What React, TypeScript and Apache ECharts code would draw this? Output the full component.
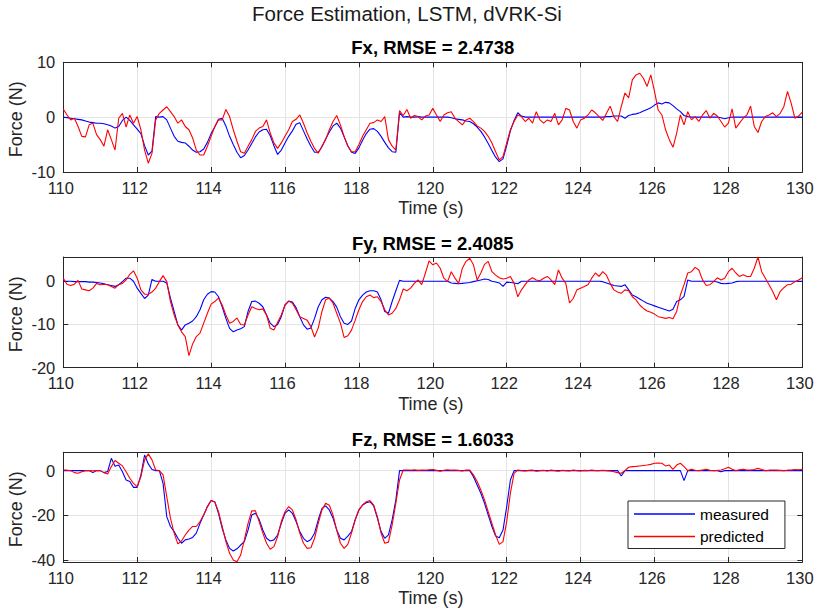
import React, { useEffect, useRef } from "react";
import * as echarts from "echarts";

// Sampling of the time axis (s)
const TIME_START = 110;
const TIME_STEP = 0.1;

const xTicks = [110, 112, 114, 116, 118, 120, 122, 124, 126, 128, 130];
const fxTicks = [-10, 0, 10];
const fyTicks = [-20, -10, 0];
const fzTicks = [-40, -20, 0];

const mainTitle = "Force Estimation, LSTM, dVRK-Si";
const subplotTitles = ["Fx, RMSE = 2.4738", "Fy, RMSE = 2.4085", "Fz, RMSE = 1.6033"];
const seriesNames = ["measured", "predicted"];
const xName = "Time (s)";
const yName = "Force (N)";

// Fx (N), one value every 0.1 s from 110.0 to 130.0
const fxMeasured = [
  0, -0.1, -0.2, -0.3, -0.4, -0.5, -0.7, -0.9, -1.0, -1.1,
  -1.1, -1.2, -1.4, -1.6, -2.0, -1.7, -0.6, 0, -0.6, -1.4,
  -2.2, -3.0, -5.2, -6.9, -6.2, 0.1, 0, 0.1, -0.5, -2.0,
  -3.5, -4.4, -4.6, -4.7, -5.3, -6.0, -6.4, -6.3, -5.8, -4.6,
  -3.0, -1.8, -0.4, -0.2, -1.6, -3.5, -5.0, -6.4, -7.4, -7.0,
  -6.0, -4.8, -3.6, -2.7, -2.3, -2.2, -3.4, -5.2, -6.8, -6.0,
  -4.7, -3.5, -2.5, -1.3, -1.0, -2.5, -4.0, -5.3, -6.4, -6.4,
  -5.4, -4.0, -2.7, -1.6, -1.1, -2.0, -3.6, -5.2, -6.4, -6.6,
  -5.6, -4.2, -3.0, -2.2, -2.1, -2.6, -3.5, -4.6, -5.6, -6.3,
  -6.4, 0.8, 0, 0.1, 0, 0, 0.1, 0, 0, 0,
  0, 0, 0, 0, 0, -0.1, -0.3, -0.4, -0.5, -0.7,
  -0.8, -1.2, -1.8, -2.6, -3.6, -4.8, -6.1, -7.3, -8.1, -7.6,
  -5.2, -2.5, -0.6, 0.8, 0.2, 0, 0, 0, 0, 0,
  0, 0, 0, 0, 0, 0, 0, 0, 0, 0,
  0, 0, 0, 0, 0, 0, 0, 0.1, 0.1, 0.2,
  0.2, 0.2, -0.2, 0.3, 0.5, 0.6, 0.8, 1.1, 1.4, 1.7,
  2.2, 2.6, 2.4, 2.7, 2.6, 2.1, 1.5, 1.0, 0.3, 0.1,
  0, 0, 0, 0, 0, 0, 0, 0, -0.1, -0.3,
  -0.1, 0, 0, 0, 0, 0, 0, 0, 0, 0,
  0, 0, 0, 0, 0, 0, 0, 0, 0, 0,
  0,
];
const fxPredicted = [
  1.5, 0.4, -0.5, -0.2, -1.7, -3.5, -3.6, -1.4, -1.1, -3.2,
  -4.1, -5.3, -2.3, -4.1, -6.0, -0.2, 0.7, -1.8, 0.4, -1.1,
  0.1, -2.3, -6.0, -8.4, -6.6, -0.5, 0.7, 1.3, 1.9, 1.0,
  0.1, -1.1, -0.5, -1.7, -2.3, -3.8, -6.0, -6.9, -6.9, -5.3,
  -3.5, -1.7, -0.5, -0.5, 1.4, 0.1, -2.3, -4.4, -6.3, -6.6,
  -5.3, -4.1, -2.6, -2.0, -1.7, -0.5, -2.9, -4.7, -5.7, -4.7,
  -3.5, -2.3, -0.8, -0.4, 0.4, -1.1, -2.9, -4.4, -5.7, -6.6,
  -5.3, -4.1, -2.3, -0.8, 0.3, -1.4, -3.5, -5.3, -6.3, -6.3,
  -5.0, -3.5, -2.3, -1.1, -1.0, -0.5, -0.8, 0.1, -4.1, -5.3,
  -6.0, 1.2, 0.3, 1.4, -0.2, 0.3, 0.1, -0.5, 0.2, 0.4,
  1.6, 0.4, -0.8, 0.4, 0.8, 1.0, -0.2, -0.8, -1.4, -0.5,
  -0.2, -0.8, -1.6, -2.0, -2.6, -3.5, -4.7, -6.3, -7.8, -7.2,
  -4.7, -2.3, -0.8, 0.4, 0.1, -0.8, -0.2, -1.1, 1.0, -0.5,
  -1.1, -0.5, -0.8, 0.7, -1.4, -0.5, 1.6, 1.3, -0.8, -2.0,
  -0.5, -0.2, 0.4, 1.3, 0.8, 0.1, -0.6, 0.7, 2.0, 0.1,
  -0.8, 1.9, 4.4, 3.5, 6.8, 7.7, 8.0, 7.1, 5.6, 7.7,
  4.7, 1.3, 0.4, -2.3, -4.1, -5.5, -2.9, 0.4, -1.4, 1.0,
  -0.5, 0.1, -0.8, 0.4, 1.2, -0.2, 0.7, 0.2, -0.8, -1.8,
  -1.1, 1.5, -2.0, -1.1, -0.2, 0.4, 2.0, -1.7, -2.8, -0.8,
  0.1, 0.4, 0.8, 0.1, 0.7, 1.9, 4.7, 2.5, -0.2, 0.2,
  0.9,
];

// Fy (N)
const fyMeasured = [
  0, 0, 0, -0.1, -0.1, -0.1, -0.1, -0.2, -0.2, -0.3,
  -0.4, -0.6, -0.8, -1.0, -1.2, -0.8, -0.1, 0.7, 0.7, 0,
  -1.6, -2.8, -4.0, -3.2, 0.4, 0, 0, 0, -0.4, -3.9,
  -7.0, -10.1, -11.3, -10.1, -9.7, -9.2, -8.2, -6.6, -4.3, -3.0,
  -2.4, -2.5, -3.6, -5.9, -8.6, -10.9, -11.7, -11.3, -11.0, -10.5,
  -7.0, -4.7, -4.6, -5.1, -5.9, -7.8, -9.7, -10.5, -10.0, -8.2,
  -5.5, -4.6, -4.8, -6.1, -8.2, -10.1, -11.1, -10.8, -8.6, -5.9,
  -4.3, -3.7, -3.9, -4.7, -6.0, -8.2, -9.7, -10.0, -9.2, -6.3,
  -4.3, -3.2, -2.5, -2.2, -2.2, -2.5, -4.3, -7.0, -7.4, -4.7,
  -2.2, 0.2, 0, 0, 0, 0, 0, 0, 0, 0,
  0, 0, 0, 0, 0, -0.4, -0.5, -0.6, -0.5, -0.4,
  -0.3, -0.1, 0.1, 0.3, 0.5, 0.4, 0, -0.2, -0.4, -1.2,
  -0.2, -0.3, -0.4, -0.6, 0, 0, 0, 0, 0, 0,
  0, 0, 0, 0, 0, 0, 0, 0, 0, 0,
  0, 0, 0, 0, 0, 0, -0.1, -0.4, -0.7, -1.0,
  -1.1, -1.2, -0.8, -2.0, -3.2, -3.6, -4.1, -4.6, -5.1, -5.4,
  -5.7, -6.0, -6.3, -6.6, -6.9, -6.5, -4.7, -4.3, -3.5, 0.3,
  0, 0, 0, 0, 0, 0, 0, -0.2, -0.5, -0.6,
  -0.5, -0.4, -0.1, 0, 0, 0, 0, 0, 0, 0,
  0, 0, 0, 0, 0, 0, 0, 0, 0, 0,
  0,
];
const fyPredicted = [
  0.7, -0.7, -1.0, -0.7, 0.2, -1.8, -2.0, -2.2, -1.6, -0.5,
  -0.8, -0.7, -0.8, -1.2, -1.6, -0.8, -0.5, 0.3, 1.6, 2.4,
  0.7, -2.0, -3.0, -3.0, -2.5, -1.6, -0.1, 1.3, -0.1, -4.7,
  -7.8, -10.1, -11.7, -12.8, -17.2, -14.5, -12.8, -12.0, -9.7, -7.4,
  -5.3, -4.7, -3.9, -5.5, -7.8, -9.7, -9.3, -8.5, -10.0, -10.1,
  -7.8, -5.9, -6.3, -6.6, -6.4, -7.8, -10.9, -11.3, -9.5, -7.8,
  -5.5, -4.6, -5.1, -6.6, -8.2, -8.6, -9.0, -10.5, -12.9, -10.8,
  -7.0, -4.3, -3.9, -5.1, -7.4, -9.7, -13.0, -12.6, -11.3, -9.0,
  -6.6, -4.7, -3.6, -3.2, -3.8, -3.6, -4.7, -6.6, -7.8, -7.4,
  -6.3, -4.3, -1.8, -2.2, -1.6, -0.5, 0.3, -0.8, 1.9, 4.7,
  3.8, 4.2, 3.0, 0.7, -0.1, 2.2, 0.7, -0.5, 3.0, 4.6,
  5.3, 3.8, 0.3, 1.9, 3.9, 4.6, 2.2, 1.4, 0.8, 0.5,
  0.7, 1.1, -0.5, -3.6, -2.0, -0.8, 0.3, 0.8, 0.3, 0.1,
  0.7, 1.1, 0.3, -0.8, 2.6, 0.7, -0.5, -5.0, -4.0, -2.0,
  -1.6, -1.2, -0.8, 0.7, 1.9, 1.1, 2.2, 1.4, -0.5, -2.0,
  -2.5, -2.8, -2.0, -2.2, -3.6, -4.3, -5.5, -6.3, -6.9, -7.2,
  -7.6, -8.2, -8.4, -8.6, -8.4, -8.7, -7.0, -3.2, -0.8, 1.9,
  2.2, 3.2, 2.6, 0.3, -1.0, -0.8, -0.1, 0.8, 0.3, 0.7,
  2.2, 3.0, 1.9, 1.1, 1.5, 1.1, 1.1, 3.0, 5.6, 2.2,
  0.7, -0.8, -2.4, -4.3, -2.4, -1.5, -0.8, -0.7, -0.1, 0.3,
  0.8,
];

// Fz (N)
const fzMeasured = [
  0, 0, 0, 0, 0, 0, 0, 0, -0.9, 0,
  0, -0.9, -0.4, 5.5, 2.0, 2.5, -0.5, -4.2, -4.9, -7.5,
  -7.5, -2.0, 7.0, 3.0, 0.5, 0, 0, -5.7, -20.6, -25.0,
  -27.3, -30.3, -32.5, -31.0, -30.6, -29.9, -28.0, -23.6, -19.9, -16.1,
  -13.4, -14.0, -19.1, -25.8, -31.0, -34.8, -36.0, -35.0, -33.3, -31.8,
  -26.6, -19.9, -19.1, -21.8, -26.6, -30.3, -31.5, -31.0, -28.8, -23.6,
  -19.1, -17.6, -19.1, -22.8, -27.3, -30.3, -31.8, -30.8, -28.0, -22.0,
  -16.9, -15.8, -17.6, -21.3, -26.6, -30.3, -31.0, -29.3, -27.3, -22.0,
  -17.6, -15.4, -14.4, -13.9, -15.8, -21.3, -27.3, -30.3, -28.8, -22.0,
  -13.1, 0, 0, 0, 0, 0, 0, 0, 0, 0,
  0, 0, 0, 0, 0, 0, 0, 0, 0, 0,
  0, -2.7, -6.4, -10.1, -14.6, -19.9, -25.0, -29.3, -30.0, -26.6,
  -16.1, -4.2, 0, 0, 0, 0, 0, 0, 0, 0,
  0, 0, 0, 0, 0, 0, 0, 0, 0, 0,
  0, 0, 0, 0, 0, 0, 0, 0, 0, 0,
  0, -2.4, 0, 0, 0, 0, 0, 0, 0, 0,
  0, 0, 0, 0, 0, 0, 0, 0, -4.5, 0,
  0, 0, 0, 0, 0, 0, 0, 0, -0.5, 0,
  0, 0, 0, 0, 0, 0, 0, 0, 0, 0,
  0, 0, 0, 0, 0, 0, 0, 0, 0, 0,
  0,
];
const fzPredicted = [
  0.3, 0.2, 0, -0.9, -1.2, -0.5, 0, 0, -0.1, 0,
  0, -0.9, -1.5, 1.8, 4.5, 3.3, 2.1, -0.5, -3.4, -5.7,
  -7.2, -2.7, 4.8, 7.5, 4.8, 0.3, 0, -1.9, -11.6, -21.3,
  -28.0, -32.8, -31.5, -28.8, -26.6, -25.0, -25.0, -22.8, -19.9, -16.1,
  -13.4, -14.0, -18.4, -25.0, -31.8, -37.0, -40.0, -40.8, -37.8, -31.0,
  -23.6, -18.0, -18.0, -22.8, -28.0, -32.5, -35.2, -34.0, -29.6, -22.8,
  -18.4, -16.1, -17.6, -22.0, -28.0, -32.5, -34.8, -34.5, -30.3, -23.6,
  -17.6, -14.6, -15.5, -19.9, -26.6, -32.5, -34.8, -33.0, -28.0, -22.0,
  -17.6, -15.4, -13.9, -13.4, -15.4, -20.6, -28.0, -32.5, -32.0, -24.3,
  -14.6, -4.2, 0.3, 0.3, 0.2, 0.4, 0.1, 0.3, 0.2, 0.4,
  0.5, 0.1, -0.3, 0.2, 0.4, 0.2, 0.3, 0.1, -0.2, 0.3,
  0.2, -1.9, -4.9, -8.7, -13.1, -18.4, -23.6, -28.8, -33.0, -31.8,
  -22.8, -10.1, -1.2, 0.3, 0, -0.2, 0.1, 0.3, -0.3, 0,
  0.2, -0.2, 0.3, 0, -0.3, 0.2, 0, -0.1, 0.3, 0,
  -0.2, 0.1, 0, 0.3, 0, 0, 0.2, 0, -0.2, -0.5,
  -0.9, -1.2, 0, 1.5, 1.8, 1.9, 2.1, 2.3, 2.5, 2.8,
  3.3, 3.4, 3.3, 2.1, 2.5, 0.6, 2.5, 3.3, 1.8, 0,
  0.6, 0.2, 0, 0.3, 0.6, 0.2, 0, 0.1, 0.3, 0.8,
  1.5, 0.6, 0, 0.4, 0.6, 0.3, 0.3, 0.5, 1.0, 0.5,
  0, 0.2, 0.3, 0.2, 0.1, 0, 0.2, 0.3, 0.5, 0.4,
  0.6,
];

const FONT = "'Liberation Sans', Arial, Helvetica, sans-serif";
const AXIS_COLOR = "#262626";
const GRID_COLOR = "#e4e4e4";
const MEAS_COLOR = "#0000ff";
const PRED_COLOR = "#ff0000";

function toPairs(values: number[]) {
  return values.map((v, i) => [Math.round((TIME_START + i * TIME_STEP) * 100) / 100, v]);
}

const panels = [
  { meas: fxMeasured, pred: fxPredicted, ticks: fxTicks, min: -10, max: 10, top: 62.3, height: 109.7 },
  { meas: fyMeasured, pred: fyPredicted, ticks: fyTicks, min: -20, max: 5.6, top: 257, height: 110.7 },
  { meas: fzMeasured, pred: fzPredicted, ticks: fzTicks, min: -40.9, max: 8.2, top: 452.3, height: 109.7 },
];

const GRID_LEFT = 63.3;
const GRID_WIDTH = 739;

export default function App() {
  const ref = useRef<HTMLDivElement>(null);

  useEffect(() => {
    if (!ref.current) return;
    const chart = echarts.init(ref.current, undefined, { renderer: "svg" });

    const grids: any[] = [];
    const xAxes: any[] = [];
    const yAxes: any[] = [];
    const series: any[] = [];
    const graphics: any[] = [];

    const cx = GRID_LEFT + GRID_WIDTH / 2;

    graphics.push({
      type: "text",
      x: 407,
      y: 13,
      style: { text: mainTitle, fontSize: 20.5, fontFamily: FONT, fill: "#1a1a1a", align: "center", verticalAlign: "middle" },
    });

    panels.forEach((p, gi) => {
      grids.push({ left: GRID_LEFT, top: p.top, width: GRID_WIDTH, height: p.height, outerBoundsMode: "none", containLabel: false });

      const xBase = {
        type: "value",
        gridIndex: gi,
        min: 110,
        max: 130,
        interval: 2,
        axisLine: { show: true, onZero: false, lineStyle: { color: AXIS_COLOR, width: 1 } },
        axisTick: { show: true, inside: true, length: 5, lineStyle: { color: AXIS_COLOR, width: 1 } },
      };
      xAxes.push({
        ...xBase,
        position: "bottom",
        axisLabel: {
          show: true,
          margin: 7,
          fontSize: 16.5,
          fontFamily: FONT,
          color: AXIS_COLOR,
          customValues: xTicks,
          padding: [0, 5, 0, 0],
        },
        splitLine: { show: true, lineStyle: { color: GRID_COLOR, width: 1 } },
      });
      xAxes.push({
        ...xBase,
        position: "top",
        axisLabel: { show: false },
        splitLine: { show: false },
      });

      const yBase = {
        type: "value",
        gridIndex: gi,
        min: p.min,
        max: p.max,
        axisLine: { show: true, onZero: false, lineStyle: { color: AXIS_COLOR, width: 1 } },
        axisTick: { show: true, inside: true, length: 5, customValues: p.ticks, lineStyle: { color: AXIS_COLOR, width: 1 } },
      };
      yAxes.push({
        ...yBase,
        position: "left",
        axisLabel: { show: true, margin: 8, fontSize: 16.5, fontFamily: FONT, color: AXIS_COLOR, customValues: p.ticks },
        splitLine: { show: true, lineStyle: { color: GRID_COLOR, width: 1 } },
      });
      yAxes.push({
        ...yBase,
        position: "right",
        axisLabel: { show: false },
        splitLine: { show: false },
      });

      series.push({
        name: seriesNames[0],
        type: "line",
        xAxisIndex: gi * 2,
        yAxisIndex: gi * 2,
        data: toPairs(p.meas),
        showSymbol: false,
        symbol: "none",
        lineStyle: { color: MEAS_COLOR, width: 1.1 },
        itemStyle: { color: MEAS_COLOR },
        silent: true,
        z: 3,
      });
      series.push({
        name: seriesNames[1],
        type: "line",
        xAxisIndex: gi * 2,
        yAxisIndex: gi * 2,
        data: toPairs(p.pred),
        showSymbol: false,
        symbol: "none",
        lineStyle: { color: PRED_COLOR, width: 1.1 },
        itemStyle: { color: PRED_COLOR },
        silent: true,
        z: 4,
      });

      const titleY = [47, 243, 439][gi];
      graphics.push({
        type: "text",
        x: cx,
        y: titleY,
        style: { text: subplotTitles[gi], fontSize: 18.5, fontWeight: "bold", fontFamily: FONT, fill: "#000", align: "center", verticalAlign: "middle" },
      });
      graphics.push({
        type: "text",
        x: cx - 2,
        y: p.top + p.height + 36.3,
        style: { text: xName, fontSize: 18, fontFamily: FONT, fill: AXIS_COLOR, align: "center", verticalAlign: "middle" },
      });
      graphics.push({
        type: "text",
        x: 15.5,
        y: p.top + p.height / 2 + 2,
        rotation: Math.PI / 2,
        style: { text: yName, fontSize: 18, fontFamily: FONT, fill: AXIS_COLOR, align: "center", verticalAlign: "middle" },
      });
    });

    chart.setOption({
      animation: false,
      backgroundColor: "#ffffff",
      grid: grids,
      xAxis: xAxes,
      yAxis: yAxes,
      series,
      graphic: graphics,
      legend: {
        data: seriesNames,
        orient: "vertical",
        left: 628,
        top: 501,
        itemWidth: 61,
        itemHeight: 1.5,
        icon: "rect",
        itemGap: 6.5,
        padding: [5, 16, 4, 6],
        borderColor: AXIS_COLOR,
        borderWidth: 1,
        backgroundColor: "#ffffff",
        selectedMode: false,
        textStyle: { fontSize: 15.5, fontFamily: FONT, color: "#000" },
      },
    });

    return () => {
      chart.dispose();
    };
  }, []);

  return (
    <div
      ref={ref}
      style={{ position: "fixed", left: 0, top: 0, width: 814, height: 614, background: "#fff" }}
    />
  );
}
